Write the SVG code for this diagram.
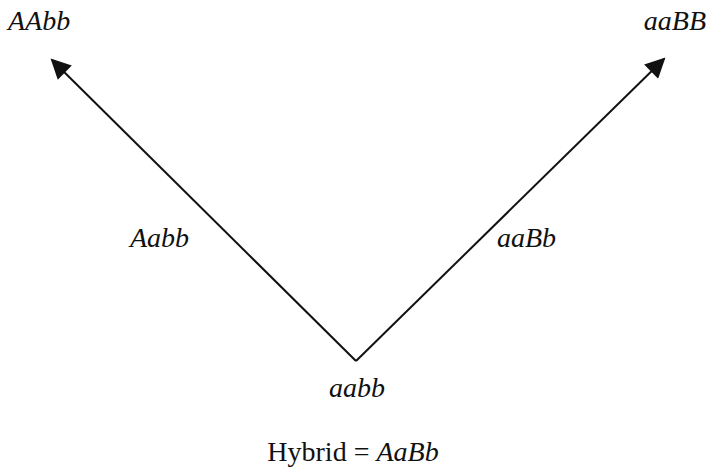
<svg xmlns="http://www.w3.org/2000/svg" width="712" height="470" viewBox="0 0 712 470">
<style>
.t{font-family:"Liberation Serif","Times New Roman",serif;font-size:28px;fill:#111}
.i{font-style:italic}
.c{stroke:#111;stroke-width:2;fill:none}
</style>
<defs>
<marker id="ah" viewBox="0 0 10 10" refX="9" refY="5" markerWidth="22" markerHeight="20" markerUnits="userSpaceOnUse" orient="auto">
<path d="M0,0 L10,5 L0,10 z" fill="#111"/>
</marker>
</defs>
<rect width="712" height="470" fill="#fff"/>
<g id="connectors">
<line class="c" x1="356" y1="361" x2="52" y2="60" marker-end="url(#ah)"/>
<line class="c" x1="356" y1="361" x2="664" y2="59" marker-end="url(#ah)"/>
</g>
<g id="node-AAbb"><text class="t i" x="8" y="30">AAbb</text></g>
<g id="node-aaBB"><text class="t i" x="706" y="30" text-anchor="end">aaBB</text></g>
<g id="label-Aabb"><text class="t i" x="130" y="247">Aabb</text></g>
<g id="label-aaBb"><text class="t i" x="497" y="247">aaBb</text></g>
<g id="node-aabb"><text class="t i" x="357" y="397" text-anchor="middle">aabb</text></g>
<g id="caption"><text class="t" x="353" y="461" text-anchor="middle">Hybrid = <tspan class="i">AaBb</tspan></text></g>
</svg>
